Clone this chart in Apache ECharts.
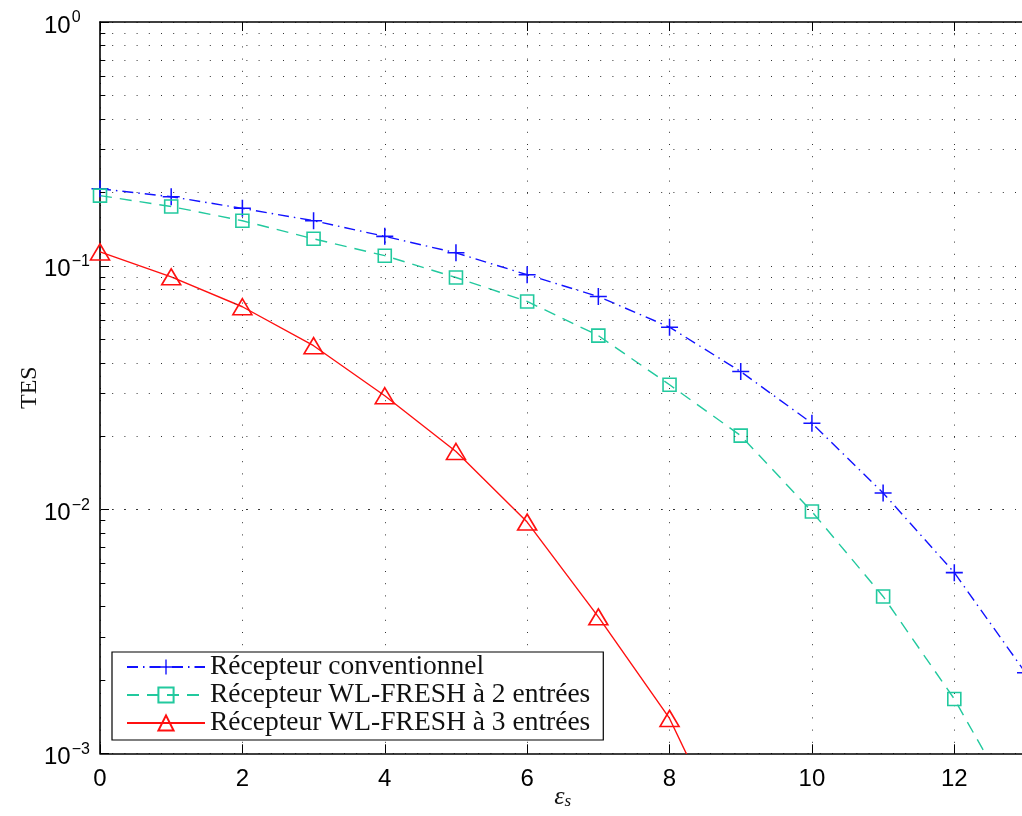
<!DOCTYPE html>
<html>
<head>
<meta charset="utf-8">
<script src="https://cdn.jsdelivr.net/npm/echarts@6/dist/echarts.min.js"></script>
<style>
html,body{margin:0;padding:0;background:#fff;}
#chart{width:1022px;height:816px;}
</style>
</head>
<body>
<div id="chart"></div>
<script>
// ---- data ----
const xValues = [0,1,2,3,4,5,6,7,8,9,10,11,12,13];
const conventionnel = [0.207,0.192,0.172,0.153,0.132,0.113,0.0919,0.0748,0.0560,0.0368,0.0226,0.0117,0.00551,0.00214];
const wlFresh2 = [0.194,0.175,0.153,0.129,0.110,0.0895,0.0714,0.0517,0.0325,0.0201,0.00981,0.00440,0.00167,0.00051];
const wlFresh3x = [0,1,2,3,4,5,6,7,8,9];
const wlFresh3 = [0.114,0.0901,0.0679,0.0470,0.0293,0.0173,0.00888,0.00363,0.00139,0.00034];
const seriesNames = ['Récepteur conventionnel','Récepteur WL-FRESH à 2 entrées','Récepteur WL-FRESH à 3 entrées'];
const xTickLabels = ['0','2','4','6','8','10','12'];
const minorYValues = [];
[0.001,0.01,0.1].forEach(d => { for (let k = 2; k <= 9; k++) minorYValues.push(+(d*k).toPrecision(3)); });

const BLUE = '#1212ff', GREEN = '#22c99e', RED = '#ff1010';
const GRID_DOT = '#333';

function pairs(xs, ys){ return ys.map((y,i)=>[xs[i], y]); }

const plusPath = 'path://M-0.09,-1H0.09V-0.09H1V0.09H0.09V1H-0.09V0.09H-1V-0.09H-0.09Z';
const squarePath = 'path://M0,0H10V10H0Z';
const triPath = 'path://M0,-10L10,8L-10,8Z';

const minorGridLines = minorYValues.map(v => ({ yAxis: v }));
const minorTicks = minorYValues.map(v => [{ coord:[0, v] }, { coord:[0.075, v] }]);

const chart = echarts.init(document.getElementById('chart'), null, {renderer:'canvas'});
chart.setOption({
  animation: false,
  backgroundColor: '#fff',
  grid: { left: 100, top: 22, width: 925.5, height: 731.3, show: false, containLabel: false, outerBoundsMode: 'none' },
  legend: {
    orient: 'vertical',
    left: 112, top: 652,
    backgroundColor: '#fff',
    borderColor: '#000', borderWidth: 1.2,
    padding: [1, 13, 3, 14],
    itemWidth: 78, itemHeight: 19, itemGap: 0,
    textStyle: { fontFamily: 'Liberation Serif', fontSize: 27.5, color: '#111', lineHeight: 27 },
    data: seriesNames
  },
  xAxis: [{
    type: 'value', min: 0, max: 13, interval: 2,
    name: '{e|ε}{s|s}', nameLocation: 'middle', nameGap: 30, nameMoveOverlap: false,
    nameTextStyle: { rich: {
      e: { fontFamily: 'Liberation Serif', fontStyle: 'italic', fontSize: 26, color: '#111' },
      s: { fontFamily: 'Liberation Serif', fontStyle: 'italic', fontSize: 17, color: '#111', padding: [10,0,0,0] }
    }},
    axisLine: { show: true, onZero: false, lineStyle: { color: '#000', width: 1.6 } },
    axisTick: { show: true, inside: true, length: 9, lineStyle: { color: '#000', width: 1 } },
    axisLabel: { showMaxLabel: false, margin: 14, fontFamily: 'Liberation Sans', fontSize: 24, color: '#000',
      formatter: v => xTickLabels[xTickLabels.indexOf(String(v))] ?? '' },
    splitLine: { show: true, lineStyle: { color: GRID_DOT, width: 1, type: [1, 11.2] } }
  }, {
    type: 'value', min: 0, max: 13, interval: 2, position: 'top',
    axisLine: { show: true, onZero: false, lineStyle: { color: '#000', width: 1.6 } },
    axisTick: { show: true, inside: true, length: 9, lineStyle: { color: '#000', width: 1 } },
    axisLabel: { show: false }, splitLine: { show: false }
  }],
  yAxis: {
    type: 'log', logBase: 10, min: 0.001, max: 1,
    name: 'TES', nameLocation: 'middle', nameGap: 58, nameRotate: 90, nameMoveOverlap: false,
    nameTextStyle: { fontFamily: 'Liberation Serif', fontSize: 24, color: '#111' },
    axisLine: { show: true, onZero: false, lineStyle: { color: '#000', width: 1.6 } },
    axisTick: { show: true, inside: true, length: 9, lineStyle: { color: '#000', width: 1 } },
    axisLabel: {
      align: 'left', margin: 56, color: '#000',
      formatter: v => { const e = Math.round(Math.log10(v)); return '{b|10}{s|' + (e < 0 ? '\u2212' + (-e) : e) + '}'; },
      rich: {
        b: { fontFamily: 'Liberation Sans', fontSize: 24, color: '#000', padding: [8,0,0,0] },
        s: { fontFamily: 'Liberation Sans', fontSize: 16, color: '#000', padding: [0,0,8,1] }
      }
    },
    splitLine: { show: true, lineStyle: { color: GRID_DOT, width: 1, type: [1, 11.2] } }
  },
  series: [{
    name: seriesNames[0], type: 'line', data: pairs(xValues, conventionnel),
    symbol: plusPath, symbolSize: 17,
    itemStyle: { color: BLUE },
    lineStyle: { color: BLUE, width: 1.4, type: [11, 5, 1.5, 5] },
    markLine: {
      silent: true, symbol: 'none', label: { show: false }, animation: false,
      lineStyle: { color: GRID_DOT, width: 1, type: [1, 11.2] },
      data: minorGridLines
    },
    z: 3
  }, {
    name: seriesNames[1], type: 'line', data: pairs(xValues, wlFresh2),
    symbol: squarePath, symbolSize: 13,
    itemStyle: { color: 'rgba(0,0,0,0)', borderColor: GREEN, borderWidth: 1.6 },
    lineStyle: { color: GREEN, width: 1.4, type: [12, 8] },
    markLine: {
      silent: true, symbol: 'none', label: { show: false }, animation: false,
      lineStyle: { color: '#000', width: 1, type: 'solid' },
      data: minorTicks
    },
    z: 3
  }, {
    name: seriesNames[2], type: 'line', data: pairs(wlFresh3x, wlFresh3),
    symbol: triPath, symbolSize: [19, 16],
    itemStyle: { color: 'rgba(0,0,0,0)', borderColor: RED, borderWidth: 1.6 },
    lineStyle: { color: RED, width: 1.4 },
    z: 3
  }]
});
</script>
</body>
</html>
